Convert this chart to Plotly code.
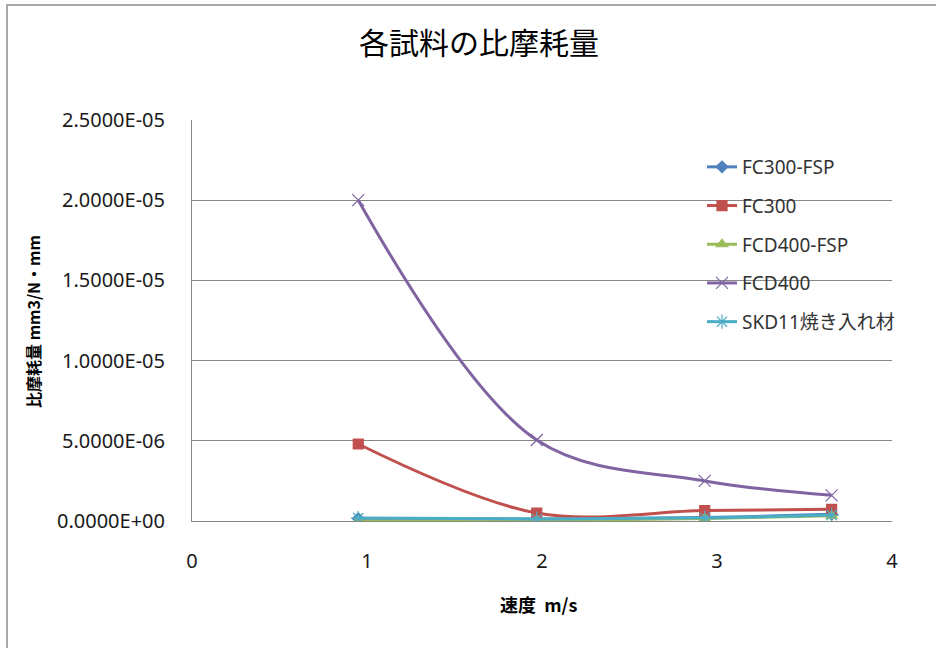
import plotly.graph_objects as go

# Sliding speed (m/s)
speed = [0.95, 1.97, 2.93, 3.655]

# Specific wear rate (mm3/N·mm) for each sample
series_names = ["FC300-FSP", "FC300", "FCD400-FSP", "FCD400", "SKD11焼き入れ材"]
fc300_fsp = [1.5e-7, 1.2e-7, 2.2e-7, 4.2e-7]
fc300 = [4.8e-6, 5.0e-7, 6.5e-7, 7.3e-7]
fcd400_fsp = [0.0, 3e-8, 1.5e-7, 3.2e-7]
fcd400 = [2.0e-5, 5.05e-6, 2.5e-6, 1.6e-6]
skd11 = [1.8e-7, 1.3e-7, 2.0e-7, 3.7e-7]

y_tickvals = [0, 5e-6, 1e-5, 1.5e-5, 2e-5, 2.5e-5]
y_ticktext = ["0.0000E+00", "5.0000E-06", "1.0000E-05",
              "1.5000E-05", "2.0000E-05", "2.5000E-05"]
x_tickvals = [0, 1, 2, 3, 4]

colors = ["#4F81BD", "#C0504D", "#9BBB59", "#8064A2", "#4BACC6"]
symbols = ["diamond", "square", "triangle-up", "x-thin-open", "asterisk-open"]
sizes = [9, 10, 10, 12, 12]
values = [fc300_fsp, fc300, fcd400_fsp, fcd400, skd11]

# Plot area in pixels
W, H = 936, 648
L, R, T, B = 192, 892, 120, 521
pw, ph = R - L, B - T

def px_x(x):
    return (x - L) / pw

def px_y(y):
    return (B - y) / ph

fig = go.Figure()
for i, (name, vals) in enumerate(zip(series_names, values)):
    fig.add_trace(go.Scatter(
        x=speed, y=vals, name=name, mode="lines+markers",
        legendgroup=f"g{i}",
        line=dict(color=colors[i], width=3, shape="spline", smoothing=1.0),
        marker=dict(symbol=symbols[i], size=sizes[i], color=colors[i],
                    line=dict(color=colors[i], width=1.2)),
    ))

axis_grey = "#868686"
tick_font = dict(family="Noto Sans, sans-serif", size=20, color="#1a1a1a")

fig.update_layout(
    width=W, height=H,
    margin=dict(l=L, r=W - R, t=T, b=H - B, pad=0),
    paper_bgcolor="white", plot_bgcolor="white",
    showlegend=True,
    legend=dict(
        x=px_x(702), y=px_y(148), xanchor="left", yanchor="top",
        bgcolor="rgba(0,0,0,0)", borderwidth=0,
        font=dict(family="Noto Sans, Noto Sans CJK JP, sans-serif", size=19, color="#333333"),
        tracegroupgap=11, itemwidth=30,
    ),
    title=dict(
        text="各試料の比摩耗量",
        x=479 / W, xref="container", xanchor="center",
        y=1 - 43 / H, yref="container", yanchor="middle",
        font=dict(family="Noto Sans CJK JP", size=30, color="#000000"),
    ),
    xaxis=dict(
        range=[0, 4], tickvals=x_tickvals, ticktext=[str(v) for v in x_tickvals],
        showgrid=False, zeroline=False, showline=True, linecolor=axis_grey, linewidth=1,
        ticks="", tickfont=tick_font, ticklabelstandoff=22,
    ),
    yaxis=dict(
        range=[0, 2.5e-5], tickvals=y_tickvals, ticktext=y_ticktext,
        showgrid=True, gridcolor=axis_grey, gridwidth=1,
        zeroline=False, showline=True, linecolor=axis_grey, linewidth=1,
        ticks="", tickfont=tick_font, ticklabelstandoff=22,
    ),
    annotations=[
        dict(text="<b>比摩耗量 mm3/N・mm</b>", textangle=-90,
             xref="paper", yref="paper", x=px_x(33), y=px_y(322),
             xanchor="center", yanchor="middle", showarrow=False,
             font=dict(family="Noto Sans CJK JP", size=16, color="#000000")),
        dict(text="<b>速度  m/s</b>",
             xref="paper", yref="paper", x=px_x(538), y=px_y(604),
             xanchor="center", yanchor="middle", showarrow=False,
             font=dict(family="Noto Sans CJK JP", size=18, color="#000000")),
    ],
    shapes=[
        # chart-area frame
        dict(type="rect", xref="paper", yref="paper",
             x0=px_x(7), x1=px_x(960), y0=px_y(670), y1=px_y(5),
             line=dict(color="#8c8c8c", width=1.5), fillcolor="rgba(0,0,0,0)",
             layer="below"),
    ],
)

fig.write_html("out.html")
